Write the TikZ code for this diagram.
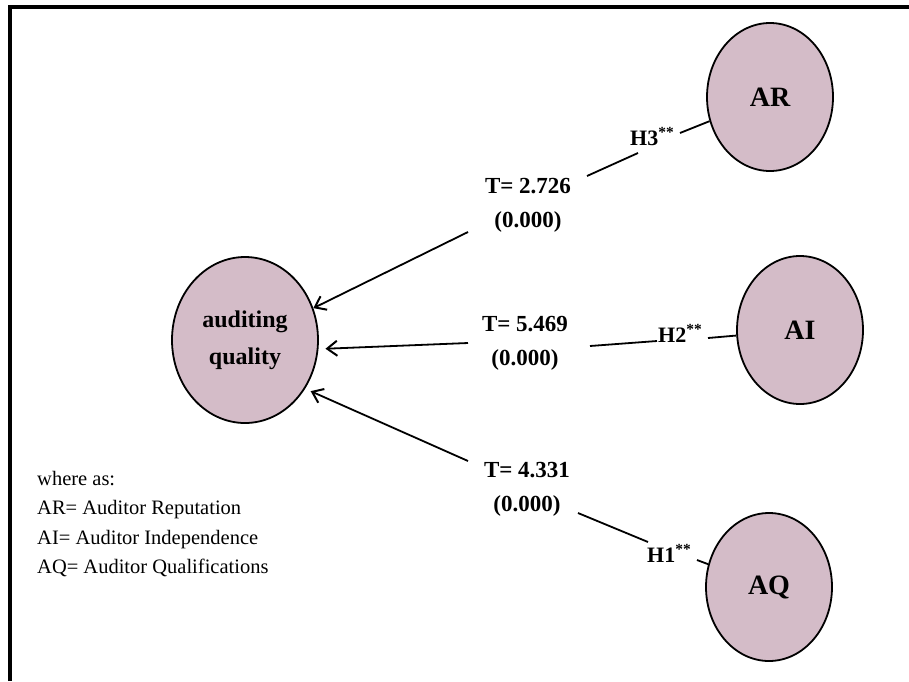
\documentclass[tikz,border=0pt]{standalone}
\usepackage{fontspec}
\setmainfont{Liberation Serif}
\usetikzlibrary{shapes.geometric,arrows.meta}
\definecolor{lv}{RGB}{212,188,200}
\tikzset{
  latent/.style={ellipse, draw=black, line width=1.8pt, fill=lv, minimum width=126pt, minimum height=148pt, inner sep=0pt, font=\fontsize{28}{30}\selectfont\bfseries},
  tlab/.style={align=center, font=\fontsize{23}{34}\selectfont\bfseries, inner sep=0pt},
  hlab/.style={anchor=base west, font=\fontsize{22}{24}\selectfont\bfseries, inner sep=0pt},
  conn/.style={line width=1.8pt},
  arr/.style={conn, -{Straight Barb[length=10pt,width=15pt,line width=2pt]}},
}
\begin{document}
\begin{tikzpicture}[x=1pt,y=-1pt]
\useasboundingbox (0,0) rectangle (909,681);
% frame
\draw[line width=3.5pt] (10,681) -- (10,7) -- (909,7);
% latent variables
\node[latent, minimum width=146pt, minimum height=166pt, align=center, font=\fontsize{24}{37}\selectfont\bfseries] (aq) at (245,340) {auditing\\quality};
\node[latent] (AR) at (770,97) {AR};
\node[latent] (AI) at (800,330) {AI};
\node[latent] (AQ) at (769,587) {AQ};
% T labels
\node[tlab] (t1) at (528,205) {T= 2.726\\(0.000)};
\node[tlab] (t2) at (525,343) {T= 5.469\\(0.000)};
\node[tlab] (t3) at (527,489) {T= 4.331\\(0.000)};
% hypothesis labels
\node[hlab] (h3) at (630,145) {H3\textsuperscript{**}};
\node[hlab] (h2) at (658,342) {H2\textsuperscript{**}};
\node[hlab] (h1) at (647,562) {H1\textsuperscript{**}};
% connector break points
\coordinate (r1) at (680,133);
\coordinate (r2) at (638,153);
\coordinate (r3) at (587,176);
\coordinate (r4) at (468,232);
\coordinate (s1) at (708,338);
\coordinate (s2) at (657,341);
\coordinate (s3) at (590,346);
\coordinate (s4) at (468,343);
\coordinate (q1) at (697,560);
\coordinate (q2) at (648,542);
\coordinate (q3) at (578,513);
\coordinate (q4) at (468,461);
% AR -> auditing quality
\draw[conn] (AR) -- (r1);
\draw[conn] (r2) -- (r3);
\draw[arr] (r4) -- (aq.25);
% AI -> auditing quality
\draw[conn] (AI) -- (s1);
\draw[conn] (s2) -- (s3);
\draw[arr, shorten >=7pt] (s4) -- (aq.-7);
% AQ -> auditing quality
\draw[conn] (AQ) -- (q1);
\draw[conn] (q2) -- (q3);
\draw[arr, shorten >=6pt] (q4) -- (aq.-39);
% legend
\node[anchor=north west, align=left, inner sep=0pt, font=\fontsize{20.5}{29.5}\selectfont] (leg) at (37,471) {where as:\\AR= Auditor Reputation\\AI= Auditor Independence\\AQ= Auditor Qualifications};
\end{tikzpicture}
\end{document}
